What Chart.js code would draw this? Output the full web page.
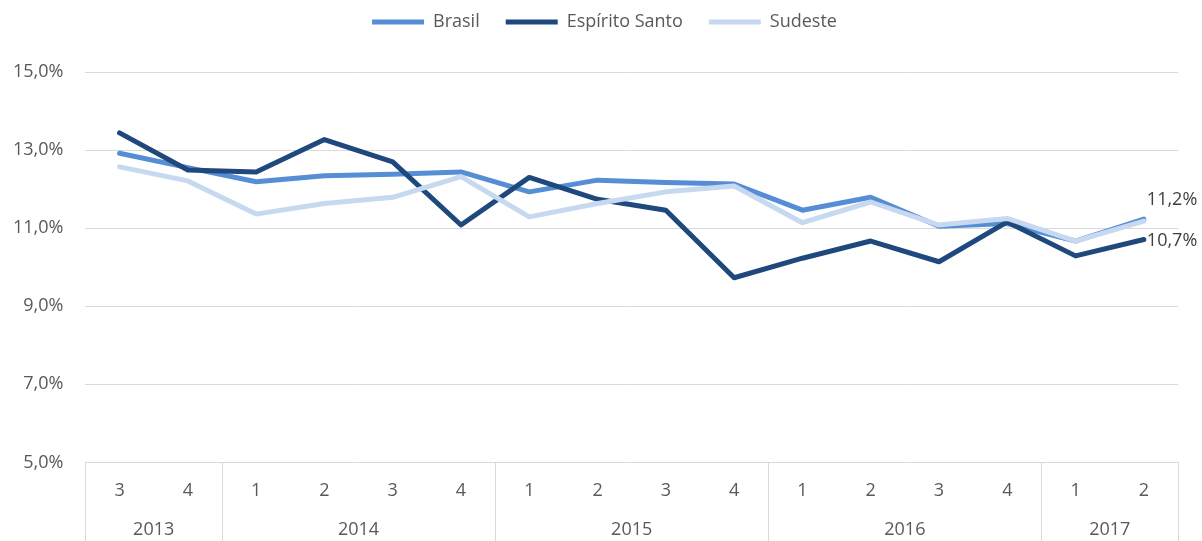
<!DOCTYPE html>
<html>
<head>
<meta charset="utf-8">
<script src="https://cdn.jsdelivr.net/npm/chart.js@4/dist/chart.umd.min.js"></script>
<style>
  html, body { margin: 0; padding: 0; background: #fff; }
  #wrap { width: 1202px; height: 541px; position: relative; }
</style>
</head>
<body>
<div id="wrap"><canvas id="chart"></canvas></div>
<script>
// ── Data ─────────────────────────────────────────────────────
const quarters  = ["3", "4", "1", "2", "3", "4", "1", "2", "3", "4", "1", "2", "3", "4", "1", "2"];
const years     = ["2013", "2014", "2015", "2016", "2017"];
const yearSpans = [2, 4, 4, 4, 2];

const brasil        = [12.92, 12.55, 12.19, 12.34, 12.38, 12.44, 11.93, 12.23, 12.17, 12.13, 11.46, 11.79, 11.05, 11.12, 10.67, 11.23];
const espiritoSanto = [13.44, 12.49, 12.44, 13.27, 12.70, 11.08, 12.30, 11.74, 11.46,  9.73, 10.23, 10.67, 10.14, 11.16, 10.29, 10.71];
const sudeste       = [12.57, 12.21, 11.36, 11.63, 11.79, 12.32, 11.29, 11.63, 11.93, 12.08, 11.14, 11.67, 11.08, 11.25, 10.67, 11.18];

const yTicks = [5, 7, 9, 11, 13, 15];

// ── Helpers ──────────────────────────────────────────────────
const FONT = "'Open Sans', sans-serif";
const fmtPct = v => v.toFixed(1).replace(".", ",") + "%";

// extra space below the legend, and nudge it right like the original
const legendGap = {
  id: "legendGap",
  afterInit(chart) {
    const lg = chart.legend;
    const fit = lg.fit;
    const draw = lg.draw;
    lg.fit = function () {
      fit.call(this);
      this.height += 31;
    };
    lg.draw = function () {
      this.ctx.save();
      this.ctx.translate(20, 0);
      draw.call(this);
      this.ctx.restore();
    };
  }
};

// year row under the quarter labels, with separators between groups
const yearGroups = {
  id: "yearGroups",
  afterDraw(chart) {
    const { ctx, scales: { x }, chartArea } = chart;
    ctx.save();
    ctx.strokeStyle = "#d9d9d9";
    ctx.lineWidth = 1;
    ctx.fillStyle = "#595959";
    ctx.font = "18px " + FONT;
    ctx.textAlign = "center";
    ctx.textBaseline = "middle";
    let start = 0;
    const edges = [start];
    years.forEach((yr, i) => {
      const end = start + yearSpans[i];
      const mid = (x.getPixelForValue(start - 0.5) + x.getPixelForValue(end - 0.5)) / 2;
      ctx.fillText(yr, mid, 530);
      edges.push(end);
      start = end;
    });
    edges.forEach(e => {
      const px = Math.round(x.getPixelForValue(e - 0.5)) + 0.5;
      ctx.beginPath();
      ctx.moveTo(px, chartArea.bottom);
      ctx.lineTo(px, chart.height);
      ctx.stroke();
    });
    ctx.restore();
  }
};

// value labels at the last point of Brasil and Espírito Santo
const endLabels = {
  id: "endLabels",
  afterDatasetsDraw(chart) {
    const ctx = chart.ctx;
    ctx.save();
    ctx.font = "18px " + FONT;
    ctx.fillStyle = "#404040";
    ctx.textAlign = "left";
    ctx.textBaseline = "middle";
    [[0, -19], [1, 1]].forEach(([di, dy]) => {
      const values = chart.data.datasets[di].data;
      const pt = chart.getDatasetMeta(di).data[values.length - 1];
      ctx.fillText(fmtPct(values[values.length - 1]), pt.x + 3, pt.y + dy);
    });
    ctx.restore();
  }
};

// ── Chart ────────────────────────────────────────────────────
const lineDs = (label, data, color, order) => ({
  label, data, order,
  borderColor: color,
  backgroundColor: color,
  borderWidth: 5,
  pointRadius: 0,
  tension: 0,
  borderCapStyle: "round",
  borderJoinStyle: "round",
});

new Chart(document.getElementById("chart"), {
  type: "line",
  data: {
    labels: quarters,
    datasets: [
      lineDs("Brasil",         brasil,        "#558ed5", 3),
      lineDs("Espírito Santo", espiritoSanto, "#1f497d", 2),
      lineDs("Sudeste",        sudeste,       "#c6d9f1", 1),
    ],
  },
  options: {
    responsive: true,
    maintainAspectRatio: false,
    animation: false,
    layout: { padding: { top: -13, left: -9, right: 24, bottom: 21 } },
    plugins: {
      tooltip: { enabled: false },
      legend: {
        position: "top",
        labels: {
          font: { family: FONT, size: 18 },
          color: "#595959",
          boxWidth: 52,
          boxHeight: 5,
          padding: 26,
          generateLabels(chart) {
            return Chart.defaults.plugins.legend.labels.generateLabels(chart)
              .sort((a, b) => a.datasetIndex - b.datasetIndex)
              .map(l => ({ ...l, lineWidth: 0 }));
          },
        },
      },
    },
    scales: {
      x: {
        offset: true,
        grid: { display: false, drawTicks: false },
        border: { display: false },
        ticks: { font: { family: FONT, size: 18 }, color: "#595959", padding: 18, maxRotation: 0, autoSkip: false },
      },
      y: {
        min: 5,
        max: 15,
        afterBuildTicks: axis => { axis.ticks = yTicks.map(v => ({ value: v })); },
        grid: { color: "#d9d9d9", lineWidth: 1, drawTicks: false },
        border: { display: false },
        ticks: { font: { family: FONT, size: 18 }, color: "#595959", padding: 22, callback: v => fmtPct(v) },
      },
    },
  },
  plugins: [legendGap, yearGroups, endLabels],
});
</script>
</body>
</html>
